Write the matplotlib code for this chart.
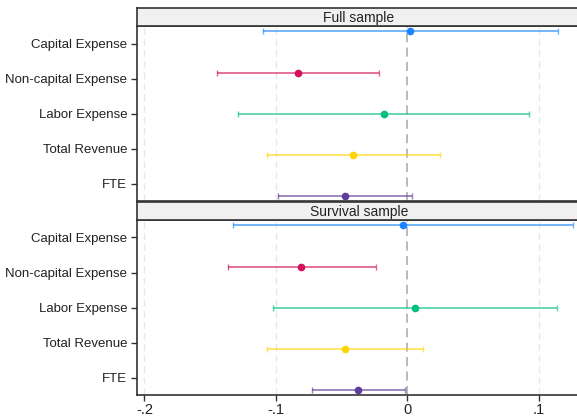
import numpy as np
import matplotlib
matplotlib.use('Agg')
import matplotlib.pyplot as plt
from matplotlib.colors import to_rgba

plt.rcParams['font.family'] = ['Liberation Sans', 'DejaVu Sans']

# data
outcomes = ['Capital Expense', 'Non-capital Expense', 'Labor Expense',
            'Total Revenue', 'FTE']
colors = ['#1a85ff', '#d41159', '#00bf7f', '#ffd400', '#5e3c99']

full_coef = [0.0025, -0.0831, -0.0177, -0.0410, -0.0474]
full_lo   = [-0.1095, -0.1445, -0.1285, -0.1067, -0.0983]
full_hi   = [0.1146, -0.0218, 0.0930, 0.0246, 0.0036]

surv_coef = [-0.0030, -0.0806, 0.0061, -0.0474, -0.0373]
surv_lo   = [-0.1323, -0.1366, -0.1019, -0.1067, -0.0725]
surv_hi   = [0.1262, -0.0241, 0.1140, 0.0124, -0.0020]

panels = [('Full sample', full_coef, full_lo, full_hi),
          ('Survival sample', surv_coef, surv_lo, surv_hi)]

xticks = [-0.2, -0.1, 0, 0.1]
xticklabels = ['-.2', '-.1', '0', '.1']

# layout (pixels)
W, H = 577.0, 418.0
left = 137.0
right = 581.0
panel_px = [(8, 26, 201), (202, 220, 395)]  # header top, axes top, axes bottom

fig = plt.figure(figsize=(W / 100, H / 100), dpi=100)
frame_col = '#333333'

tick_pos = np.arange(1, 6)
# markers are spread a bit wider than the category ticks
mark_pos = 3 + (tick_pos - 3) * 41.0 / 35.0

for (title, coef, lo, hi), (htop, atop, abot) in zip(panels, panel_px):
    ax = fig.add_axes([left / W, 1 - abot / H, (right - left) / W,
                       (abot - atop) / H])
    hx = fig.add_axes([left / W, 1 - atop / H, (right - left) / W,
                       (atop - htop) / H])
    hx.set_facecolor('#f0f0f0')
    hx.set_xticks([])
    hx.set_yticks([])
    for s in hx.spines.values():
        s.set_color(frame_col)
        s.set_linewidth(1.2)
    hx.text(0.5, 0.45, title, ha='center', va='center', fontsize=10,
            color='#222222', transform=hx.transAxes)

    for x in xticks:
        if x == 0:
            ax.axvline(x, color='#b4b4b4', lw=1.3, ls=(0, (5, 3)), zorder=1)
        else:
            ax.axvline(x, color='#e8e8e8', lw=1.0, ls=(0, (5, 3)), zorder=0)

    for i in range(len(outcomes)):
        c = coef[i]
        ax.errorbar([c], [mark_pos[i]], xerr=[[c - lo[i]], [hi[i] - c]],
                    fmt='o', color=colors[i], ms=4.5,
                    ecolor=to_rgba(colors[i], 0.65), elinewidth=1.3,
                    capsize=2.5, capthick=1.0, zorder=3)

    ax.set_xlim(-0.2057, 0.1323)
    ax.set_ylim(5.5, 0.5)
    ax.set_yticks(tick_pos)
    ax.set_yticklabels(outcomes, fontsize=9.5, color='#222222')
    ax.tick_params(axis='y', length=4, width=1, color=frame_col, pad=3)
    ax.set_xticks(xticks)
    if title == 'Survival sample':
        ax.set_xticklabels(xticklabels, fontsize=10.5, color='#222222')
        ax.tick_params(axis='x', length=4, width=1, color=frame_col, pad=2)
    else:
        ax.tick_params(axis='x', length=0, labelbottom=False)
    for s in ax.spines.values():
        s.set_color(frame_col)
        s.set_linewidth(1.2)

fig.savefig('out.png', dpi=100)
